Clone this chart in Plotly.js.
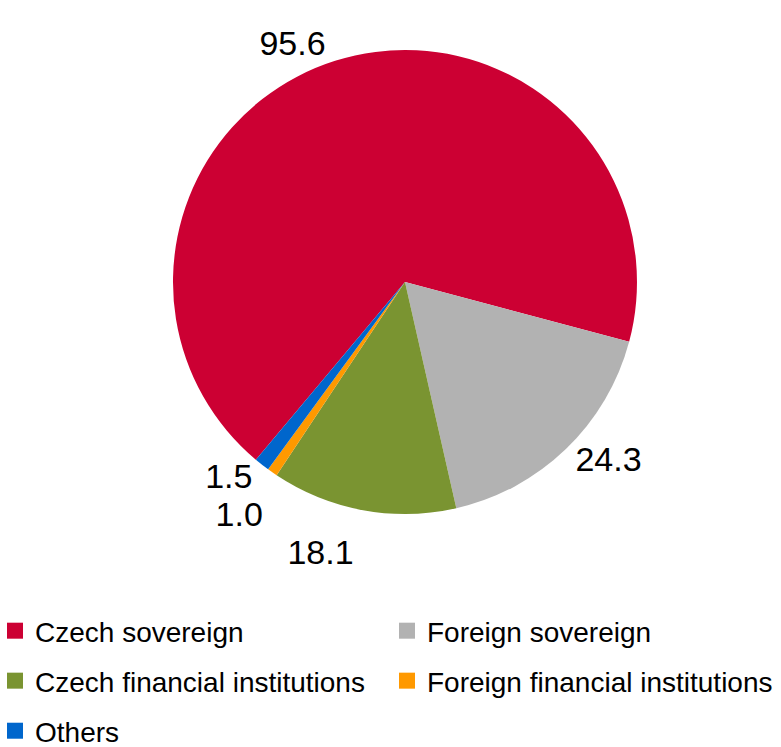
<!DOCTYPE html>
<html>
<head>
<meta charset="utf-8">
<script src="https://cdn.plot.ly/plotly-3.0.1.min.js"></script>
<style>
html,body{margin:0;padding:0;background:#fff;}
#chart{width:781px;height:747px;}
path.textline{display:none !important;}
</style>
</head>
<body>
<div id="chart"></div>
<script>
const categories = ["Czech sovereign", "Foreign sovereign", "Czech financial institutions", "Foreign financial institutions", "Others"];
const values = [95.6, 24.3, 18.1, 1.0, 1.5];
const colors = ["#CC0033", "#B2B2B2", "#7A9431", "#FF9900", "#0066CC"];
const legendIds = ["legend", "legend2", "legend3", "legend4", "legend5"];

const FONT = "Liberation Sans, Arial, sans-serif";

const pie = {
  type: "pie",
  labels: categories,
  values: values,
  text: values.map(v => v.toFixed(1)),
  textinfo: "text",
  textposition: "outside",
  sort: false,
  direction: "clockwise",
  rotation: 220,
  marker: {colors: colors, line: {width: 0}},
  outsidetextfont: {family: FONT, size: 34, color: "#000"},
  hoverinfo: "label+value",
  domain: {x: [0.2215, 0.8156], y: [0.3119, 0.9331]},
  automargin: false,
  showlegend: false
};

// legend entries, one per category (no plotted points)
const legendTraces = categories.map((c, i) => ({
  type: "scatter",
  mode: "markers",
  x: [null], y: [null],
  name: c,
  legend: legendIds[i],
  marker: {symbol: "square", size: 18, color: colors[i]},
  hoverinfo: "skip",
  showlegend: true
}));

// two-column legend grid: column x, row y (paper fractions)
const colX = [-0.0064, 0.4955];
const rowY = [0.1553, 0.0884, 0.0214];

function legendBox(i) {
  return {
    orientation: "h",
    x: colX[i % 2], y: rowY[Math.floor(i / 2)],
    xanchor: "left", yanchor: "middle",
    traceorder: "normal",
    bgcolor: "rgba(0,0,0,0)",
    font: {family: FONT, size: 28, color: "#000"}
  };
}

const layout = {
  width: 781, height: 747,
  margin: {l: 0, r: 0, t: 0, b: 0, autoexpand: false},
  paper_bgcolor: "#fff",
  plot_bgcolor: "rgba(0,0,0,0)",
  showlegend: true,
  font: {family: FONT, size: 28, color: "#000"},
  xaxis: {visible: false, range: [0, 1]},
  yaxis: {visible: false, range: [0, 1]}
};
legendIds.forEach((id, i) => { layout[id] = legendBox(i); });

Plotly.newPlot("chart", [pie, ...legendTraces], layout, {displayModeBar: false});
</script>
</body>
</html>
